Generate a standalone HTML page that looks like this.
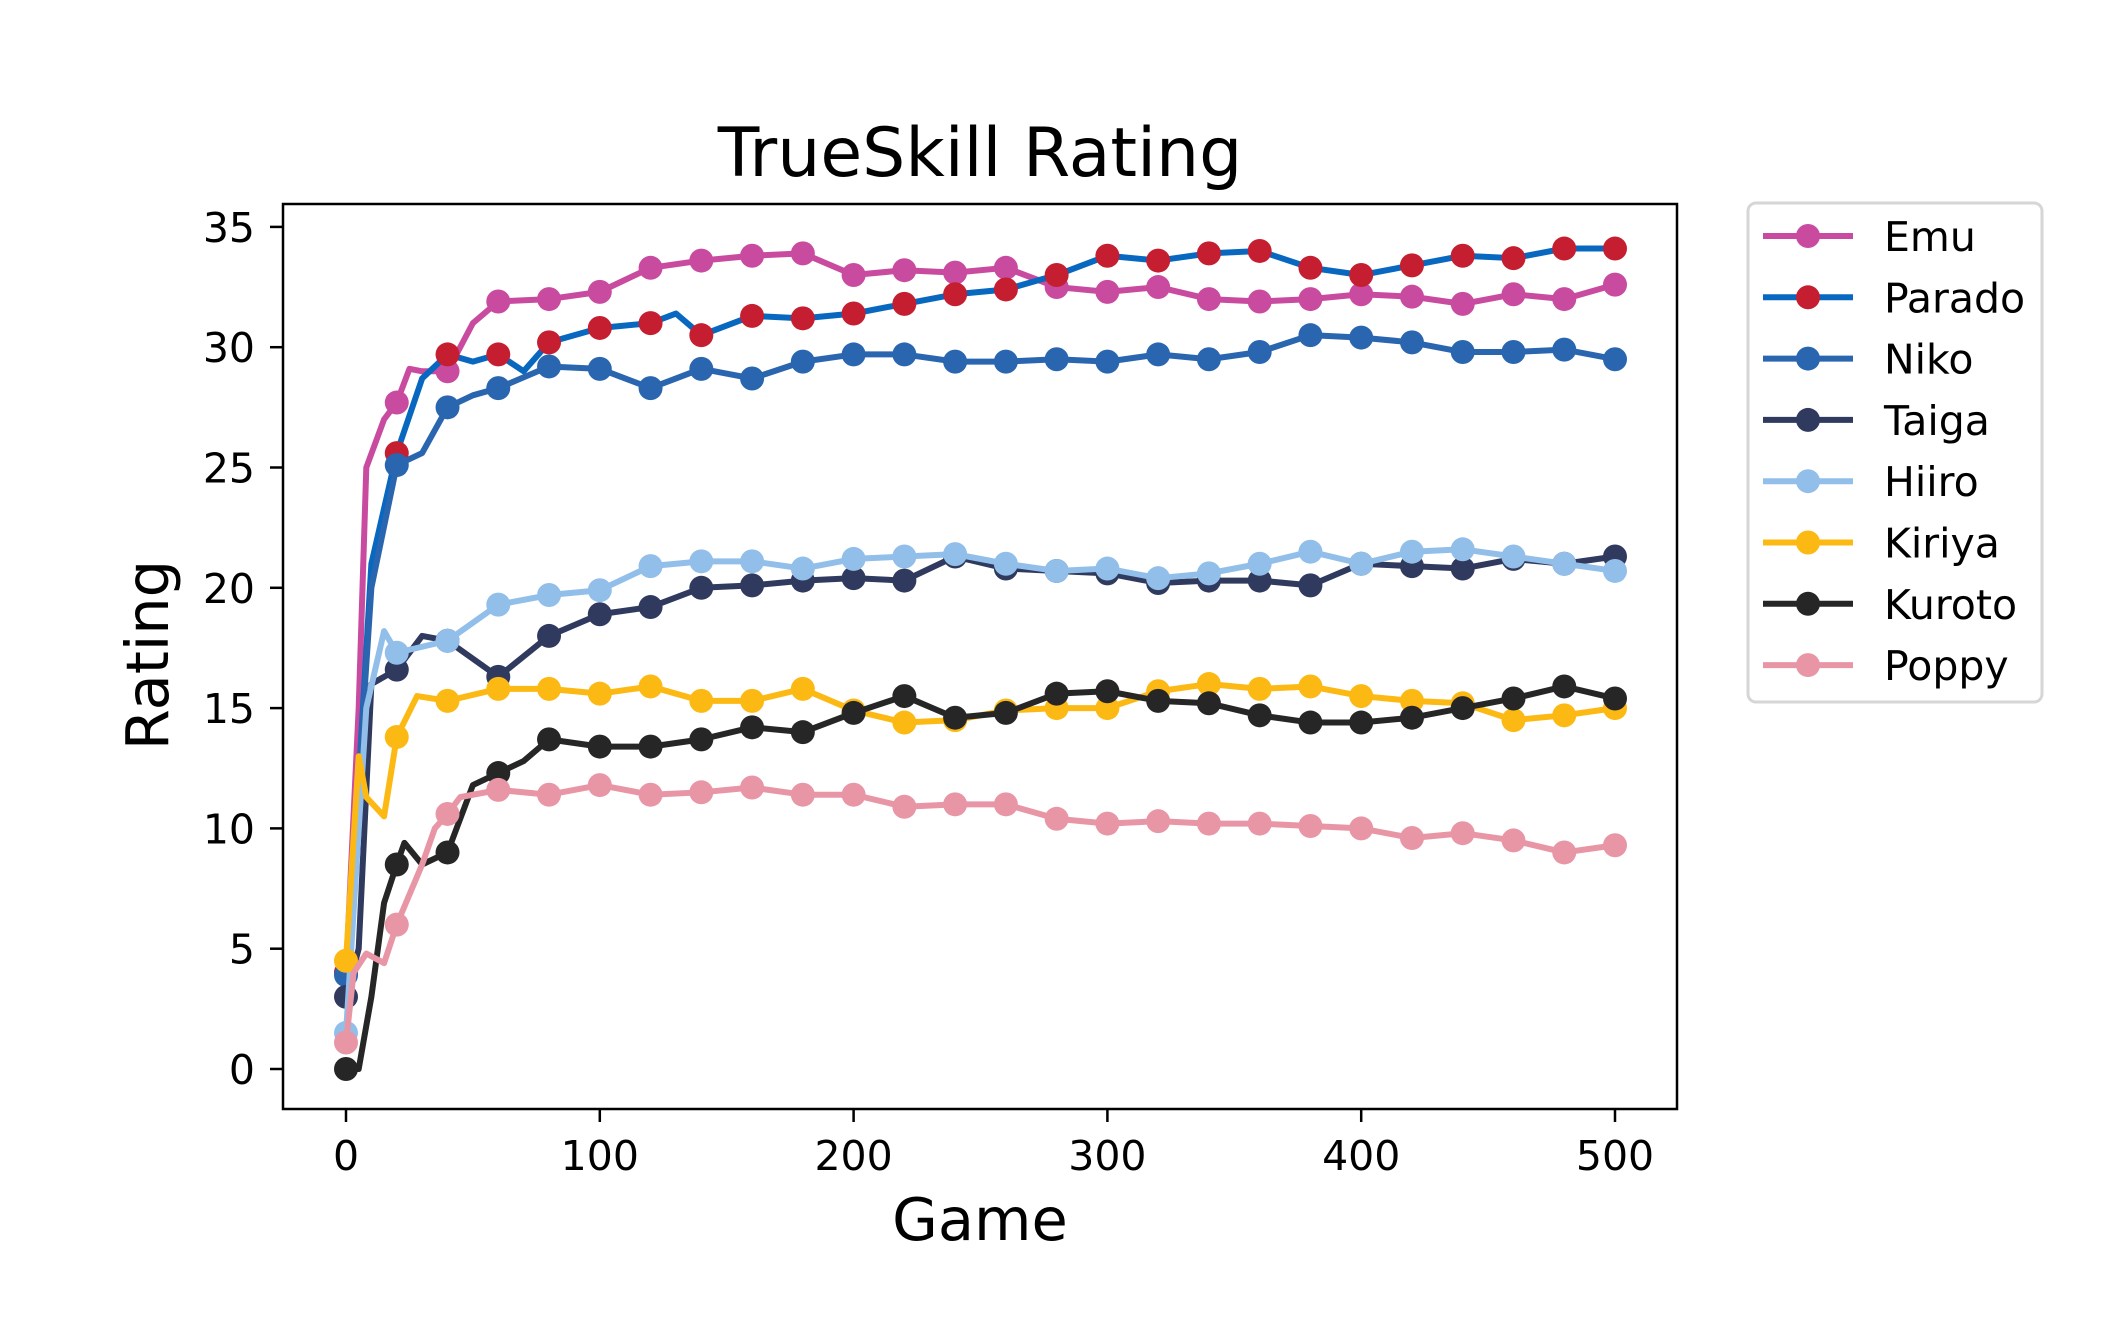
<!DOCTYPE html>
<html><head><meta charset="utf-8"><style>body{margin:0;background:#fff}svg{display:block}</style></head>
<body>
<svg id="s" width="2105" height="1318" xmlns="http://www.w3.org/2000/svg" font-family="DejaVu Sans, Liberation Sans, sans-serif">
<rect width="2105" height="1318" fill="#fff"/>
<text x="980" y="176" font-size="68" text-anchor="middle">TrueSkill Rating</text>
<text x="980" y="1240" font-size="59" text-anchor="middle">Game</text>
<text x="168" y="655" font-size="59" text-anchor="middle" transform="rotate(-90 168 655)">Rating</text>
<g id="plot"></g>
<rect x="283" y="204" width="1394" height="905" fill="none" stroke="#000" stroke-width="2.5"/>
<g id="ticks" font-size="41"></g>
<rect x="1748" y="203" width="294" height="499" rx="8" fill="#fff" stroke="#d6d6d6" stroke-width="3"/>
<g id="leg" font-size="41"></g>
</svg>
<script>
const X=g=>346+2.538*g, Y=r=>1069-24.06*r;
const S=[
["Emu","#c94ba0","#c94ba0",[[0,4],[5,15],[8,25],[15,27],[20,27.7],[25,29.1],[30,29],[40,29],[50,31],[60,31.9],[80,32],[100,32.3],[120,33.3],[140,33.6],[160,33.8],[180,33.9],[200,33],[220,33.2],[240,33.1],[260,33.3],[280,32.5],[300,32.3],[320,32.5],[340,32],[360,31.9],[380,32],[400,32.2],[420,32.1],[440,31.8],[460,32.2],[480,32],[500,32.6]]],
["Parado","#0868c0","#c41e30",[[0,4],[5,12],[10,21],[20,25.6],[30,28.7],[40,29.7],[50,29.4],[60,29.7],[70,29],[80,30.2],[100,30.8],[120,31],[130,31.4],[140,30.5],[160,31.3],[180,31.2],[200,31.4],[220,31.8],[240,32.2],[260,32.4],[280,33],[300,33.8],[320,33.6],[340,33.9],[360,34],[380,33.3],[400,33],[420,33.4],[440,33.8],[460,33.7],[480,34.1],[500,34.1]]],
["Niko","#2a66b0","#2a66b0",[[0,3.9],[5,12],[10,20],[20,25.1],[30,25.6],[40,27.5],[50,28],[60,28.3],[80,29.2],[100,29.1],[120,28.3],[140,29.1],[160,28.7],[180,29.4],[200,29.7],[220,29.7],[240,29.4],[260,29.4],[280,29.5],[300,29.4],[320,29.7],[340,29.5],[360,29.8],[380,30.5],[400,30.4],[420,30.2],[440,29.8],[460,29.8],[480,29.9],[500,29.5]]],
["Taiga","#2f3a5e","#2f3a5e",[[0,3],[5,5],[10,16],[20,16.6],[30,18],[40,17.8],[60,16.3],[80,18],[100,18.9],[120,19.2],[140,20],[160,20.1],[180,20.3],[200,20.4],[220,20.3],[240,21.3],[260,20.8],[280,20.7],[300,20.6],[320,20.2],[340,20.3],[360,20.3],[380,20.1],[400,21],[420,20.9],[440,20.8],[460,21.2],[480,21],[500,21.3]]],
["Hiiro","#92bfea","#92bfea",[[0,1.5],[8,15],[15,18.2],[20,17.3],[40,17.8],[60,19.3],[80,19.7],[100,19.9],[120,20.9],[140,21.1],[160,21.1],[180,20.8],[200,21.2],[220,21.3],[240,21.4],[260,21],[280,20.7],[300,20.8],[320,20.4],[340,20.6],[360,21],[380,21.5],[400,21],[420,21.5],[440,21.6],[460,21.3],[480,21],[500,20.7]]],
["Kiriya","#fdb913","#fdb913",[[0,4.5],[5,13],[8,11.3],[15,10.5],[20,13.8],[28,15.5],[40,15.3],[60,15.8],[80,15.8],[100,15.6],[120,15.9],[140,15.3],[160,15.3],[180,15.8],[200,14.9],[220,14.4],[240,14.5],[260,14.9],[280,15],[300,15],[320,15.7],[340,16],[360,15.8],[380,15.9],[400,15.5],[420,15.3],[440,15.2],[460,14.5],[480,14.7],[500,15]]],
["Kuroto","#262626","#262626",[[0,0],[5,0],[10,3],[15,6.9],[20,8.5],[23,9.4],[30,8.5],[40,9],[50,11.8],[60,12.3],[70,12.8],[80,13.7],[100,13.4],[120,13.4],[140,13.7],[160,14.2],[180,14],[200,14.8],[220,15.5],[240,14.6],[260,14.8],[280,15.6],[300,15.7],[320,15.3],[340,15.2],[360,14.7],[380,14.4],[400,14.4],[420,14.6],[440,15],[460,15.4],[480,15.9],[500,15.4]]],
["Poppy","#e896a6","#e896a6",[[0,1.1],[3,4],[8,4.8],[15,4.4],[20,6],[30,8.5],[35,10],[40,10.6],[45,11.3],[60,11.6],[80,11.4],[100,11.8],[120,11.4],[140,11.5],[160,11.7],[180,11.4],[200,11.4],[220,10.9],[240,11],[260,11],[280,10.4],[300,10.2],[320,10.3],[340,10.2],[360,10.2],[380,10.1],[400,10],[420,9.6],[440,9.8],[460,9.5],[480,9],[500,9.3]]]
];
let p="",l="";
S.forEach((s,i)=>{
 p+=`<polyline fill="none" stroke="${s[1]}" stroke-width="6" stroke-linejoin="round" points="${s[3].map(d=>X(d[0])+','+Y(d[1])).join(' ')}"/>`;
 s[3].filter(d=>d[0]%20==0).forEach(d=>p+=`<circle cx="${X(d[0])}" cy="${Y(d[1])}" r="12" fill="${s[2]}"/>`);
 const y=236+i*61.3;
 l+=`<line x1="1763" x2="1853" y1="${y}" y2="${y}" stroke="${s[1]}" stroke-width="6"/><circle cx="1808" cy="${y}" r="12" fill="${s[2]}"/><text x="1884" y="${y+15}">${s[0]}</text>`;
});
document.getElementById('plot').innerHTML=p;
document.getElementById('leg').innerHTML=l;
let t="";
for(let r=0;r<=35;r+=5){const y=Y(r);t+=`<line x1="270" x2="283" y1="${y}" y2="${y}" stroke="#000" stroke-width="2.5"/><text x="255" y="${y+15}" text-anchor="end">${r}</text>`;}
for(let g=0;g<=500;g+=100){const x=X(g);t+=`<line x1="${x}" x2="${x}" y1="1109" y2="1122" stroke="#000" stroke-width="2.5"/><text x="${x}" y="1170" text-anchor="middle">${g}</text>`;}
document.getElementById('ticks').innerHTML=t;
</script>
</body></html>
